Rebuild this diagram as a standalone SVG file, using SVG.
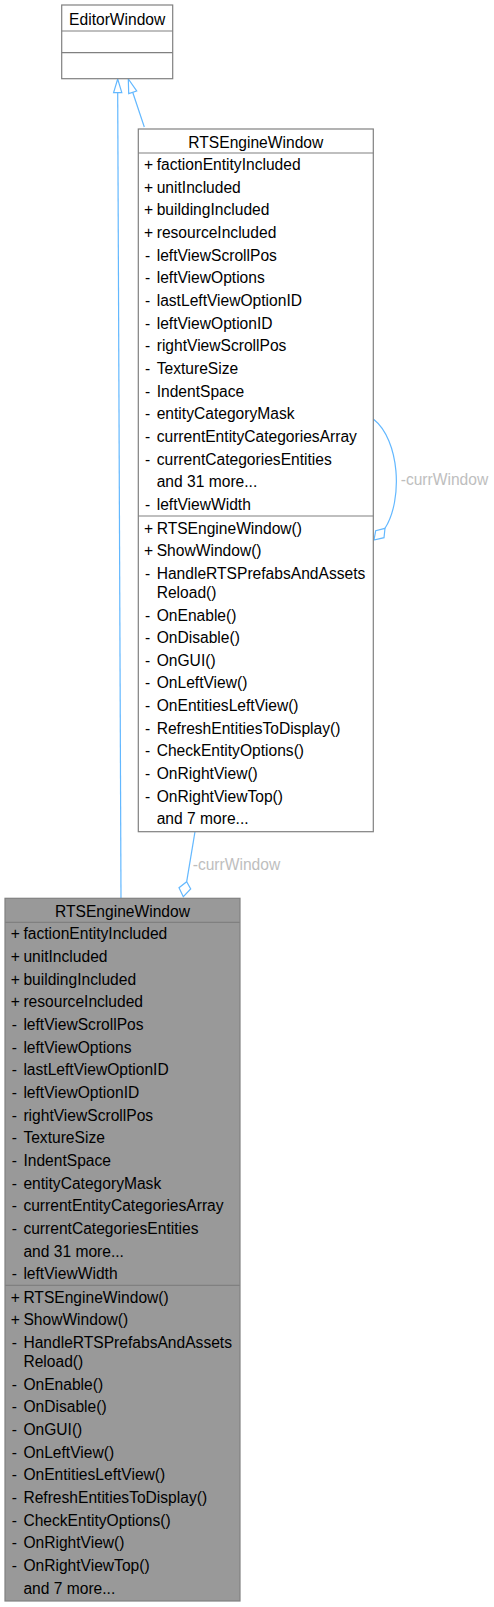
<svg xmlns="http://www.w3.org/2000/svg" width="494" height="1607" viewBox="0 0 494 1607">
<style>
text{font-family:"Liberation Sans",Arial,sans-serif;font-size:15.6px;fill:#000}
.t{text-anchor:middle}
.box{stroke:#808080;stroke-width:1.2}
.sep{stroke:#808080;stroke-width:1.2;fill:none}
.e{stroke:#63b8ff;stroke-width:1.2;fill:none}
.ah{stroke:#63b8ff;stroke-width:1.2;fill:#fff}
.lbl{fill:#bebebe}
</style>
<rect width="494" height="1607" fill="#fff"/>
<g id="connectors">
<path class="e" d="M121,898 L117.7,93"/>
<polygon class="ah" points="117.7,79 113.6,92.7 121.8,92.7"/>
<path class="e" d="M144.3,127 L132.7,92.3"/>
<polygon class="ah" points="128.3,79 128.7,93.6 136.7,91"/>
<path class="e" d="M373.3,419 C400,440 403,500 385,528.3"/>
<polygon class="ah" points="385,528.3 384,537.7 374,540 375.7,530.7"/>
<text class="lbl" x="400.7" y="485">-currWindow</text>
<path class="e" d="M195,831.7 L186.7,881.7"/>
<polygon class="ah" points="186.7,881.7 190.7,889 183.3,896.7 179,887.7"/>
<text class="lbl" x="192.7" y="870">-currWindow</text>
</g>
<g id="EditorWindow">
<rect class="box" x="61.7" y="5" width="111" height="73.7" fill="#fff"/>
<path class="sep" d="M61.7,31 H172.7 M61.7,52.7 H172.7"/>
<text class="t" x="117.2" y="25">EditorWindow</text>
</g>
<g id="RTSEngineWindow_upper">
<rect class="box" x="138.3" y="129" width="235" height="702.7" fill="#fff"/>
<path class="sep" d="M138.3,153 H373.3 M138.3,516 H373.3"/>
<text class="t" x="255.8" y="148">RTSEngineWindow</text>
<g>
<text x="144" y="170">+</text><text x="156.7" y="170">factionEntityIncluded</text>
<text x="144" y="192.7">+</text><text x="156.7" y="192.7">unitIncluded</text>
<text x="144" y="215.3">+</text><text x="156.7" y="215.3">buildingIncluded</text>
<text x="144" y="238">+</text><text x="156.7" y="238">resourceIncluded</text>
<text x="145" y="260.7">-</text><text x="156.7" y="260.7">leftViewScrollPos</text>
<text x="145" y="283.3">-</text><text x="156.7" y="283.3">leftViewOptions</text>
<text x="145" y="306">-</text><text x="156.7" y="306">lastLeftViewOptionID</text>
<text x="145" y="328.7">-</text><text x="156.7" y="328.7">leftViewOptionID</text>
<text x="145" y="351.3">-</text><text x="156.7" y="351.3">rightViewScrollPos</text>
<text x="145" y="374">-</text><text x="156.7" y="374">TextureSize</text>
<text x="145" y="396.7">-</text><text x="156.7" y="396.7">IndentSpace</text>
<text x="145" y="419.3">-</text><text x="156.7" y="419.3">entityCategoryMask</text>
<text x="145" y="442">-</text><text x="156.7" y="442">currentEntityCategoriesArray</text>
<text x="145" y="464.7">-</text><text x="156.7" y="464.7">currentCategoriesEntities</text>
<text x="156.7" y="487.3">and 31 more...</text>
<text x="145" y="510">-</text><text x="156.7" y="510">leftViewWidth</text>
<text x="144" y="533.5">+</text><text x="156.7" y="533.5">RTSEngineWindow()</text>
<text x="144" y="556">+</text><text x="156.7" y="556">ShowWindow()</text>
<text x="145" y="578.5">-</text><text x="156.7" y="578.5">HandleRTSPrefabsAndAssets</text>
<text x="156.7" y="598">Reload()</text>
<text x="145" y="620.5">-</text><text x="156.7" y="620.5">OnEnable()</text>
<text x="145" y="643">-</text><text x="156.7" y="643">OnDisable()</text>
<text x="145" y="665.7">-</text><text x="156.7" y="665.7">OnGUI()</text>
<text x="145" y="688.3">-</text><text x="156.7" y="688.3">OnLeftView()</text>
<text x="145" y="711">-</text><text x="156.7" y="711">OnEntitiesLeftView()</text>
<text x="145" y="733.7">-</text><text x="156.7" y="733.7">RefreshEntitiesToDisplay()</text>
<text x="145" y="756.3">-</text><text x="156.7" y="756.3">CheckEntityOptions()</text>
<text x="145" y="779">-</text><text x="156.7" y="779">OnRightView()</text>
<text x="145" y="801.7">-</text><text x="156.7" y="801.7">OnRightViewTop()</text>
<text x="156.7" y="824.3">and 7 more...</text>
</g>
</g>
<g id="RTSEngineWindow_lower" transform="translate(-133.3,769.3)">
<rect class="box" x="138.3" y="129" width="235" height="702.7" fill="#999999"/>
<path class="sep" d="M138.3,153 H373.3 M138.3,516 H373.3"/>
<text class="t" x="255.8" y="148">RTSEngineWindow</text>
<g>
<text x="144" y="170">+</text><text x="156.7" y="170">factionEntityIncluded</text>
<text x="144" y="192.7">+</text><text x="156.7" y="192.7">unitIncluded</text>
<text x="144" y="215.3">+</text><text x="156.7" y="215.3">buildingIncluded</text>
<text x="144" y="238">+</text><text x="156.7" y="238">resourceIncluded</text>
<text x="145" y="260.7">-</text><text x="156.7" y="260.7">leftViewScrollPos</text>
<text x="145" y="283.3">-</text><text x="156.7" y="283.3">leftViewOptions</text>
<text x="145" y="306">-</text><text x="156.7" y="306">lastLeftViewOptionID</text>
<text x="145" y="328.7">-</text><text x="156.7" y="328.7">leftViewOptionID</text>
<text x="145" y="351.3">-</text><text x="156.7" y="351.3">rightViewScrollPos</text>
<text x="145" y="374">-</text><text x="156.7" y="374">TextureSize</text>
<text x="145" y="396.7">-</text><text x="156.7" y="396.7">IndentSpace</text>
<text x="145" y="419.3">-</text><text x="156.7" y="419.3">entityCategoryMask</text>
<text x="145" y="442">-</text><text x="156.7" y="442">currentEntityCategoriesArray</text>
<text x="145" y="464.7">-</text><text x="156.7" y="464.7">currentCategoriesEntities</text>
<text x="156.7" y="487.3">and 31 more...</text>
<text x="145" y="510">-</text><text x="156.7" y="510">leftViewWidth</text>
<text x="144" y="533.5">+</text><text x="156.7" y="533.5">RTSEngineWindow()</text>
<text x="144" y="556">+</text><text x="156.7" y="556">ShowWindow()</text>
<text x="145" y="578.5">-</text><text x="156.7" y="578.5">HandleRTSPrefabsAndAssets</text>
<text x="156.7" y="598">Reload()</text>
<text x="145" y="620.5">-</text><text x="156.7" y="620.5">OnEnable()</text>
<text x="145" y="643">-</text><text x="156.7" y="643">OnDisable()</text>
<text x="145" y="665.7">-</text><text x="156.7" y="665.7">OnGUI()</text>
<text x="145" y="688.3">-</text><text x="156.7" y="688.3">OnLeftView()</text>
<text x="145" y="711">-</text><text x="156.7" y="711">OnEntitiesLeftView()</text>
<text x="145" y="733.7">-</text><text x="156.7" y="733.7">RefreshEntitiesToDisplay()</text>
<text x="145" y="756.3">-</text><text x="156.7" y="756.3">CheckEntityOptions()</text>
<text x="145" y="779">-</text><text x="156.7" y="779">OnRightView()</text>
<text x="145" y="801.7">-</text><text x="156.7" y="801.7">OnRightViewTop()</text>
<text x="156.7" y="824.3">and 7 more...</text>
</g>
</g>
</svg>
